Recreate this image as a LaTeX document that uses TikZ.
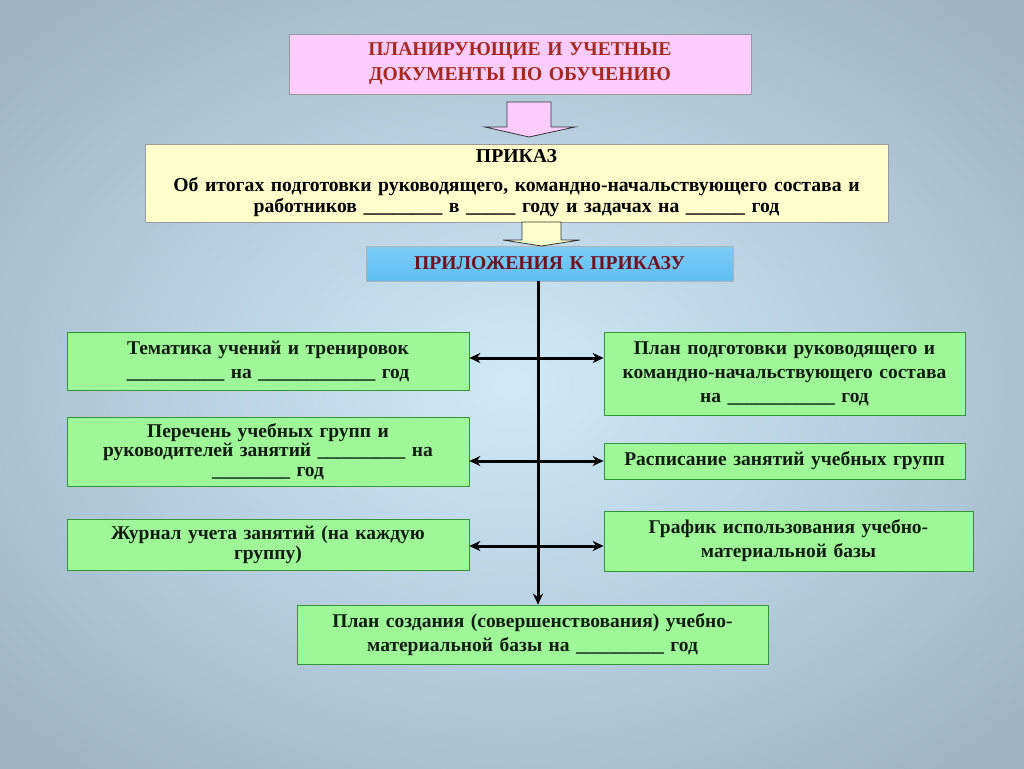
\documentclass[tikz,border=0pt]{standalone}
\usepackage{fontspec}
\setmainfont{Liberation Serif}
\usetikzlibrary{arrows.meta,calc}
\definecolor{bgin}{RGB}{208,234,250}
\definecolor{bgout}{RGB}{158,180,197}
\definecolor{pinkf}{RGB}{255,204,255}
\definecolor{yellf}{RGB}{255,255,204}
\definecolor{bluef}{RGB}{95,190,242}
\definecolor{bluet}{RGB}{125,205,248}
\definecolor{greenf}{RGB}{158,248,152}
\definecolor{titlered}{RGB}{165,42,30}
\definecolor{maroon}{RGB}{110,18,32}
\definecolor{txtdark}{RGB}{16,28,16}
\tikzset{
  box/.style={rectangle, inner sep=0pt, align=center, font=\bfseries},
  titlebox/.style={box, fill=pinkf, draw=black!40, line width=0.8pt, text=titlered,
    font=\fontsize{19.6}{25}\selectfont\bfseries},
  prikazbox/.style={box, fill=yellf, draw=black!40, line width=0.8pt, text=black,
    font=\fontsize{19.7}{21}\selectfont\bfseries},
  bluebox/.style={box, top color=bluet, bottom color=bluef, draw=black!30, line width=0.6pt, text=maroon,
    font=\fontsize{19.6}{21}\selectfont\bfseries},
  greenbox/.style={box, fill=greenf, draw=black!35!green!60!gray, line width=0.7pt, text=txtdark,
    font=\fontsize{19.5}{24}\selectfont\bfseries},
  conn/.style={line width=3pt, black},
  arr/.style={conn, -{Stealth[length=11pt,width=10pt]}},
  blockarrow/.style={draw=black!80, line width=0.8pt},
}
\begin{document}
\begin{tikzpicture}[x=1pt,y=-1pt]
\useasboundingbox (0,0) rectangle (1024,768);
\shade[inner color=bgin, outer color=bgout] (-180,-120) rectangle (1204,888);

\node[titlebox, minimum width=462, minimum height=60, text width=440] (title) at (520,64)
  {ПЛАНИРУЮЩИЕ И УЧЕТНЫЕ\\ДОКУМЕНТЫ ПО ОБУЧЕНИЮ};

\node[prikazbox, minimum width=743, minimum height=78, text width=730] (prikaz) at (516.5,183)
  {ПРИКАЗ\\[8pt]Об итогах подготовки руководящего, командно-начальствующего состава и\\работников \_\_\_\_\_\_\_\_ в \_\_\_\_\_ году и задачах на \_\_\_\_\_\_ год};

\node[bluebox, minimum width=367, minimum height=35, text width=355] (appx) at (549.5,263.5)
  {ПРИЛОЖЕНИЯ К ПРИКАЗУ};

\node[greenbox, minimum width=402, minimum height=58, text width=390] (L1) at (268,361)
  {Тематика учений и тренировок\\\_\_\_\_\_\_\_\_\_\_ на \_\_\_\_\_\_\_\_\_\_\_\_ год};
\node[greenbox, minimum width=402, minimum height=69, text width=390, font=\fontsize{19.5}{19.5}\selectfont\bfseries] (L2) at (268,451.5)
  {Перечень учебных групп и\\руководителей занятий \_\_\_\_\_\_\_\_\_ на\\\_\_\_\_\_\_\_\_ год};
\node[greenbox, minimum width=402, minimum height=51, text width=390, font=\fontsize{19.5}{20}\selectfont\bfseries] (L3) at (268,544.5)
  {Журнал учета занятий (на каждую\\группу)};

\node[greenbox, minimum width=361, minimum height=83, text width=355] (R1) at (784.5,373.5)
  {План подготовки руководящего и\\командно-начальствующего состава\\на \_\_\_\_\_\_\_\_\_\_\_ год};
\node[greenbox, minimum width=361, minimum height=36, text width=355] (R2) at (784.5,461)
  {Расписание занятий учебных групп};
\node[greenbox, minimum width=369, minimum height=60, text width=355] (R3) at (788.5,541)
  {График использования учебно-\\материальной базы};

\node[greenbox, minimum width=471, minimum height=59, text width=460] (B) at (532.5,634.5)
  {План создания (совершенствования) учебно-\\материальной базы на \_\_\_\_\_\_\_\_\_ год};

% block arrows
\draw[blockarrow, fill=pinkf] (507,102) -- (551,102) -- (551,127) -- (575,127) -- (529,137)
  -- (485,127) -- (507,127) -- cycle;
\draw[blockarrow, fill=yellf] (522,222) -- (561,222) -- (561,240) -- (580,240) -- (541.5,246)
  -- (503,240) -- (522,240) -- cycle;

% connectors
\coordinate (top) at (538,0);
\coordinate (j1) at (538,358);
\coordinate (j2) at (538,461);
\coordinate (j3) at (538,546);
\draw[arr] (top |- appx.south) -- (top |- B.north);
\draw[arr] (j1) -- (j1 -| L1.east);
\draw[arr] (j2) -- (j2 -| L2.east);
\draw[arr] (j3) -- (j3 -| L3.east);
\draw[arr] (j1) -- (j1 -| R1.west);
\draw[arr] (j2) -- (j2 -| R2.west);
\draw[arr] (j3) -- (j3 -| R3.west);
\end{tikzpicture}
\end{document}
